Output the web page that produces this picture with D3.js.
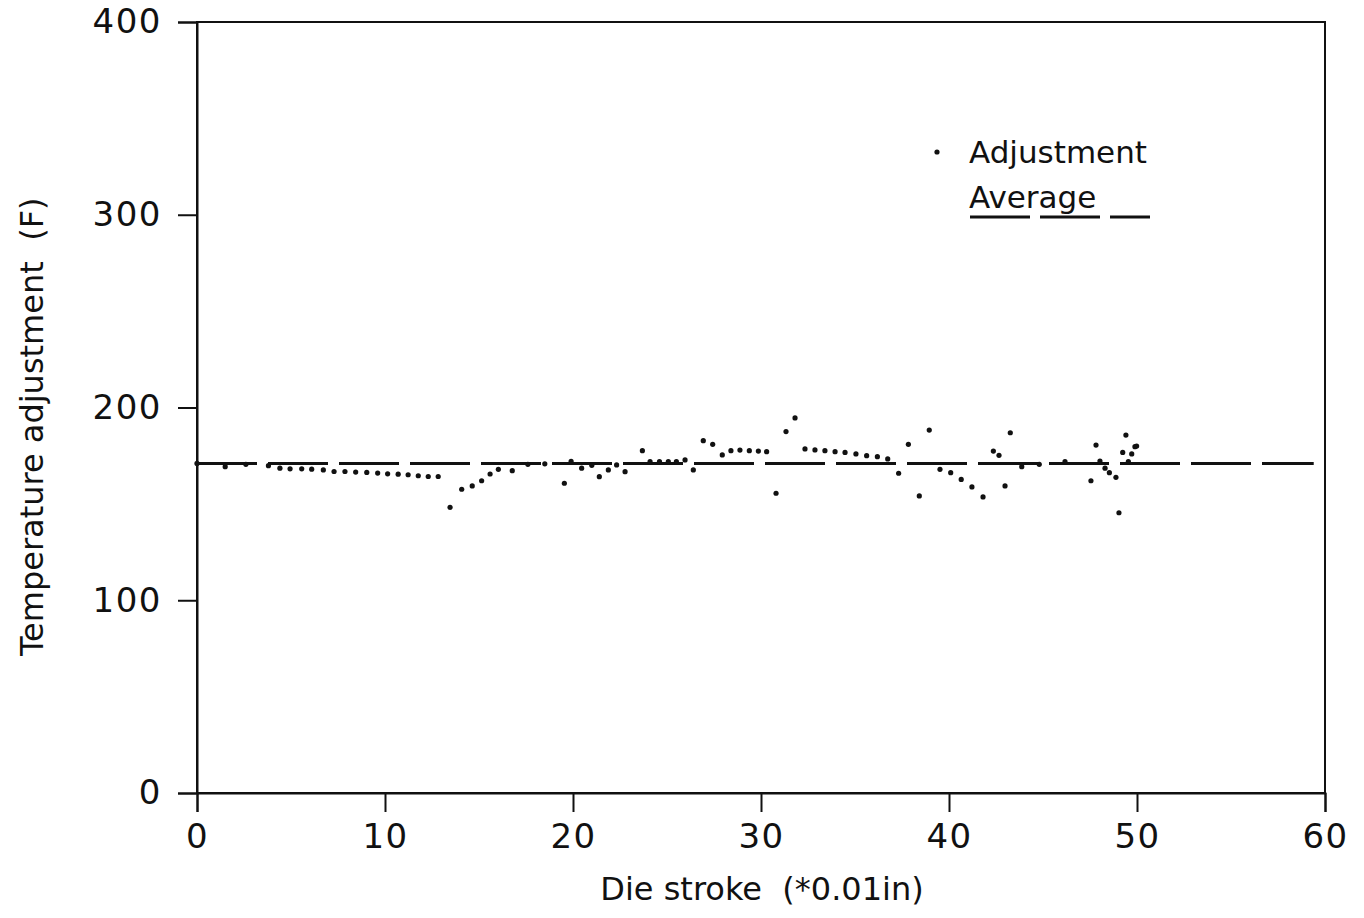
<!DOCTYPE html>
<html>
<head>
<meta charset="utf-8">
<script src="https://cdn.jsdelivr.net/npm/d3@7"></script>
<style>
  body { margin: 0; background: #fff; }
  svg text { font-family: "DejaVu Sans", sans-serif; fill: #111; }
</style>
</head>
<body>
<svg id="chart"></svg>
<script>
// die stroke (*0.01in) for every adjustment point
const stroke = [0.0, 1.5, 2.6, 3.8, 4.41, 4.95, 5.57, 6.10, 6.72, 7.29, 7.87, 8.44, 9.03, 9.61,
  10.14, 10.70, 11.23, 11.77, 12.3, 12.83, 13.46, 14.08, 14.64, 15.14, 15.59, 16.03, 16.77,
  17.6, 18.5, 19.54, 19.9, 20.46, 21.0, 21.4, 21.88, 22.32, 22.77, 23.69, 24.1, 24.6, 25.07,
  25.5, 25.96, 26.4, 26.93, 27.43, 27.94, 28.40, 28.88, 29.38, 29.86, 30.30, 30.8, 31.33,
  31.81, 32.34, 32.87, 33.4, 33.94, 34.47, 35.05, 35.62, 36.19, 36.74, 37.32, 37.84, 38.42,
  38.95, 39.52, 40.09, 40.65, 41.22, 41.81, 42.36, 42.66, 42.98, 43.26, 43.87, 44.8, 46.17,
  47.55, 47.82, 48.03, 48.3, 48.53, 48.88, 49.04, 49.24, 49.41, 49.54, 49.72, 49.89, 49.98];

// temperature adjustment (F)
const adjustment = [171, 169.3, 170.5, 169.8, 168.5, 168.2, 168.2, 168.0, 167.6, 166.8, 166.8,
  166.5, 166.3, 166.0, 165.6, 165.4, 165.1, 164.6, 164.2, 164.2, 148.2, 157.6, 159.3, 162.0,
  165.5, 167.9, 167.2, 170.5, 170.8, 160.7, 172.0, 168.5, 170.0, 164.1, 167.6, 170.2, 166.7,
  177.6, 171.9, 171.9, 171.9, 171.9, 172.8, 167.6, 182.8, 180.9, 175.4, 177.6, 177.9, 177.6,
  177.4, 177.1, 155.5, 187.5, 194.6, 178.5, 178.0, 177.6, 177.1, 176.7, 175.9, 175.0, 174.5,
  173.3, 165.9, 180.9, 154.1, 188.3, 167.9, 166.2, 162.7, 158.8, 153.6, 177.4, 175.2, 159.3,
  186.9, 169.3, 170.5, 171.9, 162.0, 180.5, 172.2, 168.5, 166.2, 163.8, 145.4, 176.7, 185.7,
  171.9, 175.9, 179.7, 180.0];

const average = 171;
const averageRange = [0, 59.4];

const xTicks = [0, 10, 20, 30, 40, 50, 60];
const yTicks = [0, 100, 200, 300, 400];

function drawChart() {
  var chart = d3.select('#chart')
    .attr('width', 1364)
    .attr('height', 918);

  const x = d3.scaleLinear().domain([0, 60]).range([197, 1325]);
  const y = d3.scaleLinear().domain([0, 400]).range([793, 22]);

  // frame
  chart.append('rect')
    .attr('x', x(0)).attr('y', y(400))
    .attr('width', x(60) - x(0)).attr('height', y(0) - y(400))
    .attr('fill', 'none')
    .attr('stroke', '#111')
    .attr('stroke-width', 2);

  // axes
  const xAxis = chart.append('g')
    .attr('transform', `translate(0, ${y(0)})`)
    .call(d3.axisBottom(x).tickValues(xTicks).tickSize(19).tickPadding(12));
  const yAxis = chart.append('g')
    .attr('transform', `translate(${x(0)}, 0)`)
    .call(d3.axisLeft(y).tickValues(yTicks).tickSize(19).tickPadding(16));

  [xAxis, yAxis].forEach(g => {
    g.select('.domain').attr('stroke', '#111').attr('stroke-width', 2);
    g.selectAll('.tick line').attr('stroke', '#111').attr('stroke-width', 2);
    g.selectAll('.tick text')
      .attr('font-family', '"DejaVu Sans", sans-serif')
      .attr('font-size', 34)
      .attr('letter-spacing', 1.5)
      .attr('fill', '#111');
  });
  yAxis.selectAll('.tick text').attr('dy', '0.32em');

  // axis titles
  chart.append('text')
    .attr('x', 762)
    .attr('y', 900)
    .attr('text-anchor', 'middle')
    .attr('font-size', 32)
    .attr('xml:space', 'preserve')
    .text('Die stroke  (*0.01in)');

  chart.append('text')
    .attr('transform', `translate(43, ${y(190)}) rotate(-90)`)
    .attr('text-anchor', 'middle')
    .attr('font-size', 32)
    .attr('xml:space', 'preserve')
    .text('Temperature adjustment  (F)');

  // average line
  chart.append('line')
    .attr('x1', x(averageRange[0])).attr('x2', x(averageRange[1]))
    .attr('y1', y(average)).attr('y2', y(average))
    .attr('stroke', '#111')
    .attr('stroke-width', 3)
    .attr('stroke-dasharray', '60 11');

  // adjustment points
  chart.selectAll('circle.pt')
    .data(stroke.map((s, i) => ({ s: s, a: adjustment[i] })))
    .enter()
    .append('circle')
    .classed('pt', true)
    .attr('cx', d => x(d.s))
    .attr('cy', d => y(d.a))
    .attr('r', 2.6)
    .attr('fill', '#111');

  // legend
  const legend = chart.append('g');
  legend.append('circle')
    .attr('cx', 937).attr('cy', 152).attr('r', 2.6).attr('fill', '#111');
  legend.append('text')
    .attr('x', 969).attr('y', 163)
    .attr('font-size', 31)
    .text('Adjustment');
  legend.append('text')
    .attr('x', 969).attr('y', 208)
    .attr('font-size', 31)
    .text('Average');
  legend.append('line')
    .attr('x1', 970).attr('x2', 1150)
    .attr('y1', 217).attr('y2', 217)
    .attr('stroke', '#111')
    .attr('stroke-width', 3)
    .attr('stroke-dasharray', '60 10');
}

drawChart();
</script>
</body>
</html>
